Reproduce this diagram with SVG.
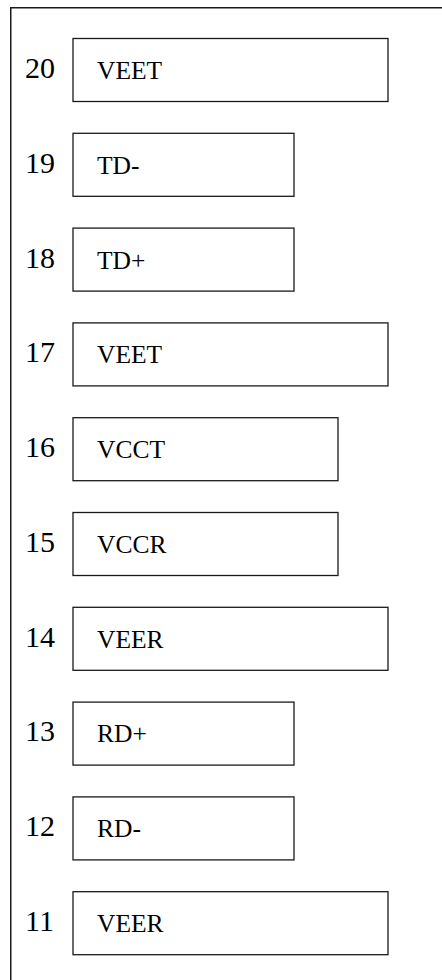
<svg xmlns="http://www.w3.org/2000/svg" width="442" height="980" viewBox="0 0 442 980">
<style>
.frame{fill:none;stroke:#1a1a1a;stroke-width:1.5}
.box{fill:#fff;stroke:#1a1a1a;stroke-width:1.3}
.num{font-family:"Liberation Serif",serif;font-size:30px;fill:#000}
.lbl{font-family:"Liberation Serif",serif;font-size:25.5px;fill:#000}
</style>
<rect width="442" height="980" fill="#fff"/>
<path class="frame" d="M10.75,980 V7.75 H442"/>
<g id="connectors"></g>
<g id="pin20"><rect class="box" x="73" y="38.5" width="315" height="63"/><text class="num" x="25" y="78">20</text><text class="lbl" x="97" y="79">VEET</text></g>
<g id="pin19"><rect class="box" x="73" y="133.3" width="221" height="63"/><text class="num" x="25" y="173">19</text><text class="lbl" x="97" y="174">TD-</text></g>
<g id="pin18"><rect class="box" x="73" y="228.1" width="221" height="63"/><text class="num" x="25" y="268">18</text><text class="lbl" x="97" y="269">TD+</text></g>
<g id="pin17"><rect class="box" x="73" y="322.9" width="315" height="63"/><text class="num" x="25" y="362">17</text><text class="lbl" x="97" y="363">VEET</text></g>
<g id="pin16"><rect class="box" x="73" y="417.7" width="265" height="63"/><text class="num" x="25" y="457">16</text><text class="lbl" x="97" y="458">VCCT</text></g>
<g id="pin15"><rect class="box" x="73" y="512.5" width="265" height="63"/><text class="num" x="25" y="552">15</text><text class="lbl" x="97" y="553">VCCR</text></g>
<g id="pin14"><rect class="box" x="73" y="607.3" width="315" height="63"/><text class="num" x="25" y="647">14</text><text class="lbl" x="97" y="648">VEER</text></g>
<g id="pin13"><rect class="box" x="73" y="702.1" width="221" height="63"/><text class="num" x="25" y="741">13</text><text class="lbl" x="97" y="742">RD+</text></g>
<g id="pin12"><rect class="box" x="73" y="796.9" width="221" height="63"/><text class="num" x="25" y="836">12</text><text class="lbl" x="97" y="837">RD-</text></g>
<g id="pin11"><rect class="box" x="73" y="891.7" width="315" height="63"/><text class="num" x="25" y="931">11</text><text class="lbl" x="97" y="932">VEER</text></g>
</svg>
